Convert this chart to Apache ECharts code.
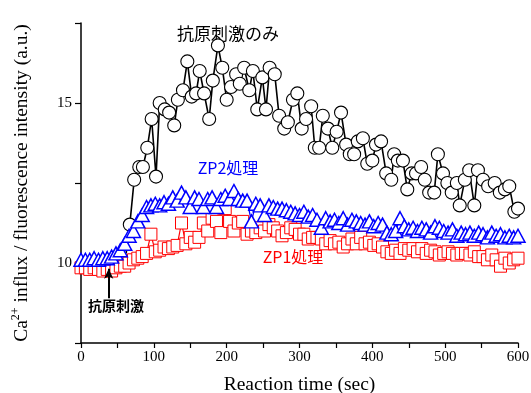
<!DOCTYPE html>
<html>
<head>
<meta charset="utf-8">
<script src="https://cdn.jsdelivr.net/npm/echarts@6/dist/echarts.min.js"></script>
<style>
  html, body { margin: 0; background: #fff; }
  #chart { width: 531px; height: 393px; }
</style>
</head>
<body>
<div id="chart"></div>
<script>
// 抗原刺激のみ (black circles)
const antigenTimes = [62, 67, 73, 80, 85, 91, 97, 103, 108, 115,
  121, 128, 133, 140, 146, 152, 158, 163, 169, 176,
  181, 188, 194, 200, 206, 213, 218, 224, 231, 236,
  242, 249, 254, 259, 266, 272, 279, 284, 291, 297,
  303, 309, 316, 321, 327, 332, 339, 345, 351, 357,
  364, 369, 375, 380, 387, 393, 400, 405, 412, 419,
  426, 430, 435, 442, 448, 454, 460, 467, 472, 478,
  485, 490, 497, 503, 509, 516, 520, 527, 533, 540,
  545, 552, 559, 568, 575, 582, 588, 595, 600];
const antigenValues = [10.3, 11.2, 12.6, 13.0, 13.0, 13.6, 14.5, 12.7, 15.0, 14.8,
  14.7, 14.3, 15.1, 15.4, 16.3, 15.2, 15.3, 16.0, 15.3, 14.5,
  15.7, 16.8, 16.1, 15.1, 15.5, 15.9, 15.6, 16.1, 15.4, 16.0,
  14.8, 15.8, 14.8, 16.1, 15.9, 14.6, 14.2, 14.4, 15.1, 15.3,
  14.2, 14.5, 14.9, 13.6, 13.6, 14.6, 14.2, 13.6, 14.1, 14.7,
  13.7, 13.4, 13.4, 13.8, 13.9, 13.1, 13.2, 13.7, 13.8, 12.8,
  12.6, 13.4, 13.2, 13.2, 12.3, 12.8, 12.8, 13.0, 12.6, 12.2,
  12.2, 13.4, 12.8, 12.5, 12.2, 12.5, 11.8, 12.6, 12.9, 11.8,
  12.9, 12.6, 12.4, 12.5, 12.2, 12.3, 12.4, 11.6, 11.7];

// ZP1 / ZP2 share one time grid (every 6 s)
const treatTimes = [0, 6, 12, 18, 24, 30, 36, 42, 48, 54,
  60, 66, 72, 78, 84, 90, 96, 102, 108, 114,
  120, 126, 132, 138, 144, 150, 156, 162, 168, 174,
  180, 186, 192, 198, 204, 210, 216, 222, 228, 234,
  240, 246, 252, 258, 264, 270, 276, 282, 288, 294,
  300, 306, 312, 318, 324, 330, 336, 342, 348, 354,
  360, 366, 372, 378, 384, 390, 396, 402, 408, 414,
  420, 426, 432, 438, 444, 450, 456, 462, 468, 474,
  480, 486, 492, 498, 504, 510, 516, 522, 528, 534,
  540, 546, 552, 558, 564, 570, 576, 582, 588, 594, 600];
const zp2Values = [10.1, 10.1, 10.1, 10.15, 10.1, 10.15, 10.15, 10.2, 10.3, 10.4,
  10.6, 10.85, 11.0, 11.3, 11.5, 11.75, 11.8, 11.85, 11.8, 11.9,
  11.85, 12.05, 11.95, 12.2, 12.05, 11.75, 12.05, 12.0, 11.75, 12.0,
  12.05, 11.75, 12.0, 12.1, 12.0, 12.25, 12.0, 11.95, 11.95, 11.3,
  11.85, 11.8, 11.5, 11.8, 11.75, 11.7, 11.7, 11.65, 11.6, 11.55,
  11.5, 11.6, 11.45, 11.5, 11.35, 11.1, 11.4, 11.3, 11.35, 11.25,
  11.4, 11.2, 11.35, 11.3, 11.25, 11.2, 11.3, 11.15, 11.25, 11.2,
  10.95, 10.9, 11.0, 11.4, 11.15, 11.05, 11.1, 11.0, 11.1, 11.05,
  10.95, 11.15, 11.1, 11.0, 10.95, 11.05, 10.85, 10.95, 10.9, 10.95,
  10.85, 10.95, 10.9, 10.8, 10.95, 10.85, 10.9, 10.8, 10.85, 10.8, 10.85];
const zp1Values = [9.85, 9.85, 9.8, 9.85, 9.8, 9.75, 9.8, 9.75, 9.85, 9.9,
  9.9, 10.0, 10.1, 10.15, 10.2, 10.3, 10.9, 10.35, 10.4, 10.5,
  10.45, 10.5, 10.55, 11.25, 10.6, 10.8, 10.65, 10.8, 11.25, 11.0,
  11.4, 11.3, 10.95, 11.7, 11.3, 11.0, 11.25, 11.3, 10.9, 11.0,
  10.95, 11.1, 11.0, 11.2, 11.1, 11.0, 10.85, 10.95, 11.1, 11.05,
  10.9, 10.9, 10.75, 10.8, 10.8, 10.75, 10.6, 10.7, 10.6, 10.65,
  10.5, 10.6, 10.75, 10.6, 10.8, 10.6, 10.65, 10.55, 10.6, 10.5,
  10.35, 10.3, 10.4, 10.3, 10.45, 10.4, 10.45, 10.35, 10.45, 10.3,
  10.4, 10.35, 10.25, 10.3, 10.35, 10.3, 10.25, 10.3, 10.3, 10.25,
  10.35, 10.2, 10.2, 10.1, 10.25, 10.1, 9.9, 10.15, 10.0, 10.1, 10.15];

const xTickLabels = ["0", "100", "200", "300", "400", "500", "600"];
const yTickLabels = ["10", "15"];
const stimulusTime = 38;
const stimulusArrow = [8.9, 9.82];

const serif = "Liberation Serif";
const cjk = "Noto Sans CJK JP";

const chart = echarts.init(document.getElementById("chart"), null, { renderer: "canvas" });

const antigenData = antigenTimes.map((t, i) =>
  i === 0 ? { value: [t, antigenValues[i]], symbol: "none" } : [t, antigenValues[i]]
);

chart.setOption({
  animation: false,
  grid: { left: 81, right: 13, top: 23, bottom: 50, containLabel: false, outerBoundsMode: "none" },
  xAxis: {
    type: "value",
    min: 0,
    max: 600,
    interval: 50,
    name: "Reaction time (sec)",
    nameLocation: "middle",
    nameGap: 32,
    nameTextStyle: { fontFamily: serif, fontSize: 19.5, color: "#000" },
    axisLine: { lineStyle: { color: "#000", width: 1.5 } },
    axisTick: { length: 5, lineStyle: { color: "#000", width: 1.2 } },
    axisLabel: {
      fontFamily: serif, fontSize: 15, color: "#000", margin: 7,
      formatter: (v) => (xTickLabels.includes(String(v)) ? String(v) : ""),
    },
    splitLine: { show: false },
  },
  yAxis: {
    type: "value",
    min: 7.5,
    max: 17.5,
    interval: 2.5,
    name: "Ca{sup|2+} influx / fluorescence intensity (a.u.)",
    nameLocation: "middle",
    nameGap: 47,
    nameTextStyle: {
      fontFamily: serif, fontSize: 19.5, color: "#000", lineHeight: 24,
      rich: { sup: { fontFamily: serif, fontSize: 12, color: "#000", verticalAlign: "top", lineHeight: 24 } },
    },
    axisLine: { show: true, lineStyle: { color: "#000", width: 1.5 } },
    axisTick: { show: true, length: 6, lineStyle: { color: "#000", width: 1.2 } },
    axisLabel: {
      fontFamily: serif, fontSize: 15, color: "#000", margin: 9,
      formatter: (v) => (yTickLabels.includes(String(v)) ? String(v) : ""),
    },
    splitLine: { show: false },
  },
  series: [
    {
      name: "抗原刺激のみ",
      type: "line",
      data: antigenData,
      symbol: "circle",
      symbolSize: 13,
      showAllSymbol: true,
      itemStyle: { color: "#fff", borderColor: "#000", borderWidth: 1.1 },
      lineStyle: { color: "#000", width: 1.6 },
    },
    {
      name: "ZP1処理",
      type: "line",
      data: treatTimes.map((t, i) => [t, zp1Values[i]]),
      symbol: "rect",
      symbolSize: 12,
      showAllSymbol: true,
      itemStyle: { color: "#fff", borderColor: "#ff0000", borderWidth: 1 },
      lineStyle: { color: "#ff0000", width: 1.2 },
      markLine: {
        silent: true,
        symbol: ["none", "arrow"],
        symbolSize: [7, 10],
        label: { show: false },
        lineStyle: { color: "#000", width: 2, type: "solid" },
        data: [[{ coord: [stimulusTime, stimulusArrow[0]] }, { coord: [stimulusTime, stimulusArrow[1]] }]],
      },
    },
    {
      name: "ZP2処理",
      type: "line",
      data: treatTimes.map((t, i) => [t, zp2Values[i]]),
      symbol: "triangle",
      symbolSize: [14, 13],
      showAllSymbol: true,
      itemStyle: { color: "#fff", borderColor: "#0000ff", borderWidth: 1.5 },
      lineStyle: { color: "#0000ff", width: 1.3 },
    },
  ],
  graphic: [
    { type: "text", x: 228, y: 34, style: { text: "抗原刺激のみ", fontFamily: cjk, fontSize: 17, fill: "#000", align: "center", verticalAlign: "middle" } },
    { type: "text", x: 228, y: 168, style: { text: "ZP2処理", fontFamily: cjk, fontSize: 16, fill: "#0000ff", align: "center", verticalAlign: "middle" } },
    { type: "text", x: 293, y: 257, style: { text: "ZP1処理", fontFamily: cjk, fontSize: 16, fill: "#ff0000", align: "center", verticalAlign: "middle" } },
    { type: "text", x: 116, y: 306, style: { text: "抗原刺激", fontFamily: cjk, fontSize: 14, fontWeight: "bold", fill: "#000", align: "center", verticalAlign: "middle" } },
  ],
});
</script>
</body>
</html>
